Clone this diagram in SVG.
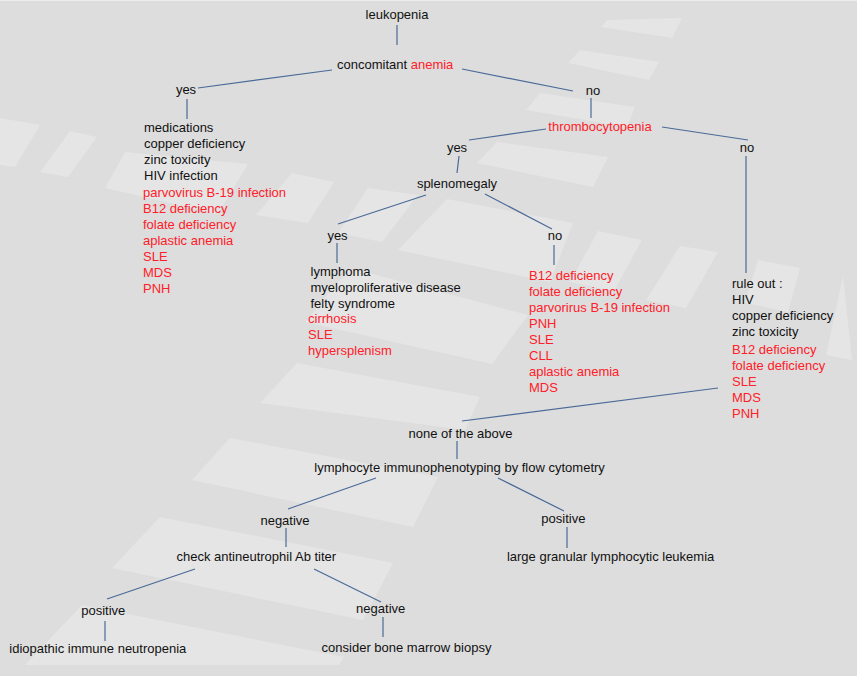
<svg xmlns="http://www.w3.org/2000/svg" width="857" height="676" viewBox="0 0 857 676">
<style>
text{font-family:"Liberation Sans",Arial,sans-serif;font-size:13px;fill:#111}
.r{fill:#ff2028}
.m{text-anchor:middle}
.bg{fill:#e5e5e5}
#connectors line{stroke:#4a6a98;stroke-width:1.2}
</style>
<rect width="857" height="676" fill="#dddddd"/>
<line x1="0" y1="0.5" x2="857" y2="0.5" stroke="#ececec"/>
<g id="background">
<polygon class="bg" points="607,20 682,18 672,38 601,27"/>
<polygon class="bg" points="580,50 659,62 649,80 568,63"/>
<polygon class="bg" points="540,93 635,107 627,127 526,110"/>
<polygon class="bg" points="497,142 608,157 593,187 477,163"/>
<polygon class="bg" points="447,199 573,223 550,282 398,250"/>
<polygon class="bg" points="598,231 642,240 614,291 570,282"/>
<polygon class="bg" points="680,246 718,252 686,308 646,300"/>
<polygon class="bg" points="758,260 800,268 788,312 745,303"/>
<polygon class="bg" points="843,276 852,360 826,355"/>
<polygon class="bg" points="0,118 40,125 15,167 0,165"/>
<polygon class="bg" points="70,131 97,137 68,177 40,172"/>
<polygon class="bg" points="125,152 248,164 218,214 105,188"/>
<polygon class="bg" points="292,173 334,182 308,223 256,215"/>
<polygon class="bg" points="368,188 418,195 382,242 338,233"/>
<polygon class="bg" points="350,268 528,315 492,364 305,322"/>
<polygon class="bg" points="297,363 480,397 465,430 260,403"/>
<polygon class="bg" points="230,438 438,477 413,527 192,480"/>
<polygon class="bg" points="160,517 393,563 363,620 112,568"/>
<polygon class="bg" points="82,605 344,657 339,665 25,665"/>
</g>
<g id="connectors">
<line x1="397" y1="25" x2="397" y2="45"/>
<line x1="332" y1="70" x2="198" y2="88"/>
<line x1="462" y1="69" x2="573" y2="91"/>
<line x1="187" y1="99" x2="187" y2="119"/>
<line x1="591" y1="98" x2="591" y2="118"/>
<line x1="546" y1="129" x2="469" y2="140"/>
<line x1="662" y1="127" x2="748" y2="140"/>
<line x1="459" y1="156" x2="457" y2="173"/>
<line x1="426" y1="195" x2="338" y2="224"/>
<line x1="485" y1="194" x2="552" y2="229"/>
<line x1="337" y1="243" x2="337" y2="263"/>
<line x1="554" y1="245" x2="554" y2="265"/>
<line x1="746" y1="156" x2="746" y2="273"/>
<line x1="718" y1="388" x2="462" y2="421"/>
<line x1="457" y1="441" x2="457" y2="459"/>
<line x1="376" y1="478" x2="288" y2="509"/>
<line x1="498" y1="478" x2="564" y2="511"/>
<line x1="286" y1="528" x2="286" y2="547"/>
<line x1="567" y1="527" x2="567" y2="548"/>
<line x1="195" y1="569" x2="107" y2="599"/>
<line x1="314" y1="569" x2="381" y2="602"/>
<line x1="105" y1="621" x2="105" y2="641"/>
<line x1="383" y1="617" x2="383" y2="637"/>
</g>
<g id="n-leukopenia"><text class="m" x="397" y="18.5">leukopenia</text></g>
<g id="n-anemia"><text x="337" y="69">concomitant <tspan class="r">anemia</tspan></text></g>
<g id="n-yes1"><text class="m" x="186" y="94">yes</text></g>
<g id="n-no1"><text class="m" x="593" y="95">no</text></g>
<g id="n-list1">
<text x="144" y="132">medications</text>
<text x="144" y="148">copper deficiency</text>
<text x="144" y="164">zinc toxicity</text>
<text x="144" y="180">HIV infection</text>
<text class="r" x="143" y="197">parvovirus B-19 infection</text>
<text class="r" x="143" y="213">B12 deficiency</text>
<text class="r" x="143" y="229">folate deficiency</text>
<text class="r" x="143" y="245">aplastic anemia</text>
<text class="r" x="143" y="261">SLE</text>
<text class="r" x="143" y="277">MDS</text>
<text class="r" x="143" y="293">PNH</text>
</g>
<g id="n-thrombo"><text class="m r" x="600" y="131">thrombocytopenia</text></g>
<g id="n-yes2"><text class="m" x="457" y="152">yes</text></g>
<g id="n-no2"><text class="m" x="747" y="152">no</text></g>
<g id="n-spleno"><text class="m" x="457" y="188">splenomegaly</text></g>
<g id="n-yes3"><text class="m" x="337.5" y="240">yes</text></g>
<g id="n-no3"><text class="m" x="555" y="240">no</text></g>
<g id="n-list2">
<text x="310.5" y="276">lymphoma</text>
<text x="310.5" y="292">myeloproliferative disease</text>
<text x="310.5" y="308">felty syndrome</text>
<text class="r" x="308" y="323">cirrhosis</text>
<text class="r" x="308" y="339">SLE</text>
<text class="r" x="308" y="355">hypersplenism</text>
</g>
<g id="n-list3">
<text class="r" x="529" y="280">B12 deficiency</text>
<text class="r" x="529" y="296">folate deficiency</text>
<text class="r" x="529" y="312">parvorirus B-19 infection</text>
<text class="r" x="529" y="328">PNH</text>
<text class="r" x="529" y="344">SLE</text>
<text class="r" x="529" y="360">CLL</text>
<text class="r" x="529" y="376">aplastic anemia</text>
<text class="r" x="529" y="392">MDS</text>
</g>
<g id="n-ruleout">
<text x="732" y="288">rule out :</text>
<text x="732" y="304">HIV</text>
<text x="732" y="320">copper deficiency</text>
<text x="732" y="336">zinc toxicity</text>
<text class="r" x="732" y="354">B12 deficiency</text>
<text class="r" x="732" y="370">folate deficiency</text>
<text class="r" x="732" y="386">SLE</text>
<text class="r" x="732" y="402">MDS</text>
<text class="r" x="732" y="418">PNH</text>
</g>
<g id="n-none"><text class="m" x="460.5" y="438">none of the above</text></g>
<g id="n-flow"><text class="m" x="459.6" y="472">lymphocyte immunophenotyping by flow cytometry</text></g>
<g id="n-neg1"><text class="m" x="285" y="525">negative</text></g>
<g id="n-pos1"><text class="m" x="563.4" y="523">positive</text></g>
<g id="n-check"><text class="m" x="256.3" y="561">check antineutrophil Ab titer</text></g>
<g id="n-lgl"><text class="m" x="610.6" y="561">large granular lymphocytic leukemia</text></g>
<g id="n-pos2"><text class="m" x="103.3" y="615">positive</text></g>
<g id="n-neg2"><text class="m" x="380.7" y="613">negative</text></g>
<g id="n-iin"><text class="m" x="97.8" y="652.5">idiopathic immune neutropenia</text></g>
<g id="n-bmb"><text class="m" x="406.5" y="652">consider bone marrow biopsy</text></g>
</svg>
